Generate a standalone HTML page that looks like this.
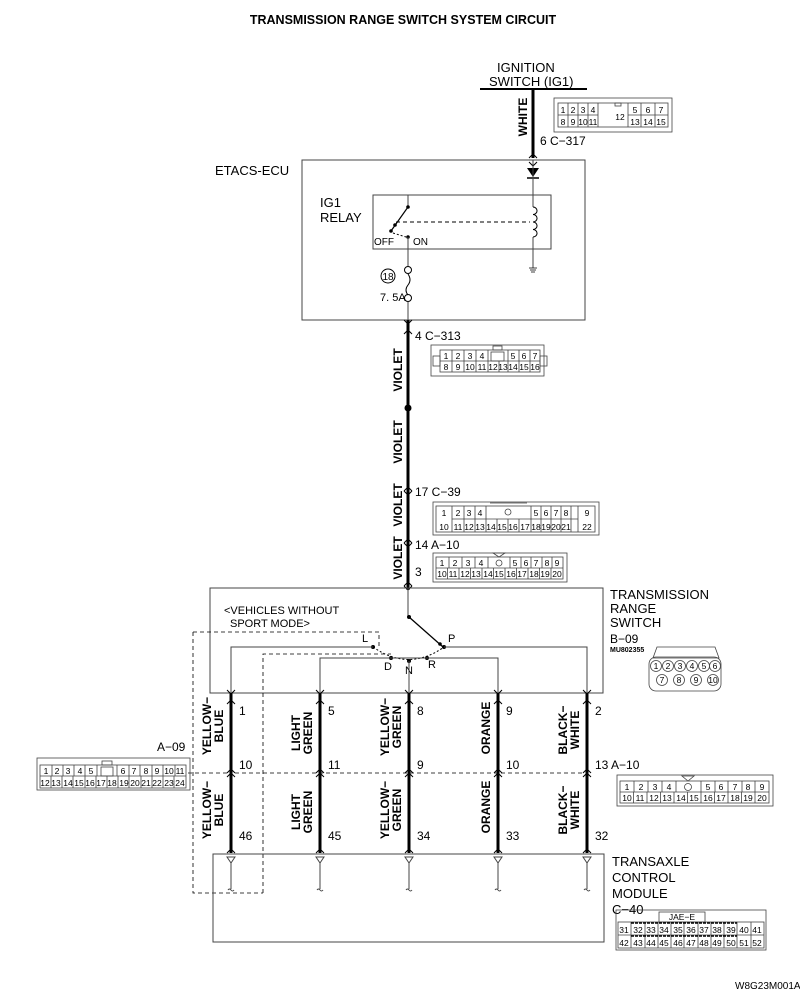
<!DOCTYPE html>
<html><head><meta charset="utf-8"><style>
html,body{margin:0;padding:0;background:#fff;}
svg{display:block;}
text{font-family:"Liberation Sans",sans-serif;fill:#000;}
.n{font-family:"Liberation Sans",sans-serif;font-size:12px;}
.c{font-size:8.5px;text-anchor:middle;}
.w{font-size:12px;font-weight:bold;text-anchor:middle;}
</style></head><body>
<svg width="800" height="996" viewBox="0 0 800 996" xmlns="http://www.w3.org/2000/svg">
<defs>
<g id="dn"><path d="M-4,-4 L0,0 L4,-4" fill="none" stroke="#000" stroke-width="1"/></g>
<g id="up"><path d="M-4,4 L0,0 L4,4" fill="none" stroke="#000" stroke-width="1"/></g>
</defs>
<text x="403" y="24" font-size="12.5" font-weight="bold" text-anchor="middle">TRANSMISSION RANGE SWITCH SYSTEM CIRCUIT</text>

<!-- ignition -->
<text x="497" y="72" font-size="13">IGNITION</text>
<text x="489" y="86" font-size="13">SWITCH (IG1)</text>
<line x1="480" y1="89" x2="587" y2="89" stroke="#000" stroke-width="2"/>
<line x1="533" y1="89" x2="533" y2="158" stroke="#000" stroke-width="3"/>
<text class="w" transform="translate(527,117) rotate(-90)">WHITE</text>
<text x="540" y="145" class="n">6  C−317</text>
<use href="#up" x="533" y="154"/><use href="#dn" x="533" y="166"/>

<!-- C-317 -->
<g fill="none" stroke="#444" stroke-width="0.8">
<rect x="554" y="98" width="118" height="34"/>
<rect x="558" y="103" width="110" height="24"/>
<line x1="558" y1="115" x2="598" y2="115"/><line x1="628" y1="115" x2="668" y2="115"/>
<line x1="568" y1="103" x2="568" y2="127"/><line x1="578" y1="103" x2="578" y2="127"/><line x1="588" y1="103" x2="588" y2="127"/><line x1="598" y1="103" x2="598" y2="127"/>
<line x1="628" y1="103" x2="628" y2="127"/><line x1="641" y1="103" x2="641" y2="127"/><line x1="655" y1="103" x2="655" y2="127"/>
<rect x="615" y="103" width="6" height="3"/>
</g>
<text class="c" y="113"><tspan x="563">1</tspan><tspan x="573">2</tspan><tspan x="583">3</tspan><tspan x="593">4</tspan><tspan x="635">5</tspan><tspan x="648">6</tspan><tspan x="661">7</tspan></text>
<text class="c" y="125"><tspan x="563">8</tspan><tspan x="573">9</tspan><tspan x="583">10</tspan><tspan x="593">11</tspan><tspan x="635">13</tspan><tspan x="648">14</tspan><tspan x="661">15</tspan></text>
<text class="c" x="620" y="120">12</text>

<!-- ETACS -->
<text x="215" y="175" font-size="13">ETACS-ECU</text>
<rect x="302" y="160" width="283" height="160" fill="none" stroke="#444" stroke-width="1"/>
<polygon points="527,168 539,168 533,177" fill="#000"/><line x1="527" y1="178" x2="539" y2="178" stroke="#000" stroke-width="1.5"/>
<line x1="533" y1="160" x2="533" y2="268" stroke="#444" stroke-width="1"/>
<rect x="373" y="195" width="178" height="54" fill="none" stroke="#444" stroke-width="1"/>
<rect x="529" y="207" width="8" height="30" fill="#fff"/>
<path d="M533,207 a4,3.7 0 1 1 0,7.5 a4,3.7 0 1 1 0,7.5 a4,3.7 0 1 1 0,7.5 a4,3.7 0 1 1 0,7.5" fill="none" stroke="#000" stroke-width="1"/>
<path d="M529,268 h8 M530,270 h6 M531,272 h4" stroke="#000" stroke-width="0.8"/>
<text x="320" y="207" font-size="13">IG1</text>
<text x="320" y="222" font-size="13">RELAY</text>
<line x1="408" y1="195" x2="408" y2="207" stroke="#444"/>
<line x1="408" y1="207" x2="391" y2="231" stroke="#000" stroke-width="1.2"/>
<circle cx="408" cy="207" r="1.8"/><circle cx="395" cy="225" r="1.8"/><circle cx="391" cy="231" r="1.8"/><circle cx="408" cy="237" r="1.8"/>
<line x1="396" y1="222" x2="530" y2="222" stroke="#000" stroke-dasharray="4,3"/>
<line x1="393" y1="233" x2="406" y2="237" stroke="#000" stroke-dasharray="2,2"/>
<text x="374" y="245" font-size="10" font-family="Liberation Mono">OFF</text>
<text x="413" y="245" font-size="10" font-family="Liberation Mono">ON</text>
<line x1="408" y1="237" x2="408" y2="266" stroke="#444"/>
<circle cx="408" cy="270" r="3.5" fill="none" stroke="#000"/>
<path d="M408,274 q4,6 0,11 q-4,5 0,10" fill="none" stroke="#000"/>
<circle cx="408" cy="298" r="3.5" fill="none" stroke="#000"/>
<line x1="408" y1="302" x2="408" y2="320" stroke="#444"/>
<circle cx="388" cy="276" r="7" fill="none" stroke="#000"/><text x="388" y="280" font-size="10" text-anchor="middle">18</text>
<text x="380" y="301" font-size="11">7. 5A</text>

<!-- main violet wire -->
<line x1="408" y1="320" x2="408" y2="590" stroke="#000" stroke-width="3"/>
<use href="#dn" x="408" y="324"/><use href="#up" x="408" y="330"/>
<circle cx="408" cy="408" r="3.5"/>
<text class="w" transform="translate(402,370) rotate(-90)">VIOLET</text>
<text class="w" transform="translate(402,442) rotate(-90)">VIOLET</text>
<text class="w" transform="translate(402,505) rotate(-90)">VIOLET</text>
<text class="w" transform="translate(402,558) rotate(-90)">VIOLET</text>
<text x="415" y="340" class="n">4  C−313</text>
<text x="415" y="496" class="n">17  C−39</text>
<text x="415" y="549" class="n">14  A−10</text>
<text x="415" y="576" class="n">3</text>
<use href="#up" x="408" y="487"/><use href="#dn" x="408" y="495"/>
<use href="#up" x="408" y="539"/><use href="#dn" x="408" y="547"/>
<use href="#up" x="408" y="582"/><use href="#dn" x="408" y="590"/>

<!-- C-313 -->
<g fill="none" stroke="#444" stroke-width="0.8">
<rect x="431" y="345" width="113" height="31"/>
<rect x="440" y="350" width="100" height="22"/>
<rect x="433" y="356" width="7" height="10"/><rect x="540" y="356" width="7" height="10"/>
<line x1="440" y1="361" x2="540" y2="361"/>
<line x1="452" y1="350" x2="452" y2="372"/><line x1="464" y1="350" x2="464" y2="372"/><line x1="476" y1="350" x2="476" y2="372"/><line x1="488" y1="350" x2="488" y2="372"/>
<line x1="499" y1="361" x2="499" y2="372"/><line x1="508" y1="350" x2="508" y2="372"/><line x1="519" y1="350" x2="519" y2="372"/><line x1="530" y1="350" x2="530" y2="372"/>
<rect x="491" y="352" width="13" height="9"/><rect x="493" y="346" width="9" height="4"/>
</g>
<text class="c" y="359"><tspan x="446">1</tspan><tspan x="458">2</tspan><tspan x="470">3</tspan><tspan x="482">4</tspan><tspan x="513">5</tspan><tspan x="524">6</tspan><tspan x="535">7</tspan></text>
<text class="c" y="370"><tspan x="446">8</tspan><tspan x="458">9</tspan><tspan x="470">10</tspan><tspan x="482">11</tspan><tspan x="493">12</tspan><tspan x="503">13</tspan><tspan x="513">14</tspan><tspan x="524">15</tspan><tspan x="535">16</tspan></text>

<!-- C-39 -->
<g fill="none" stroke="#444" stroke-width="0.8">
<rect x="433" y="502" width="166" height="33"/>
<rect x="436" y="506" width="159" height="26"/>
<line x1="452" y1="506" x2="452" y2="532"/><line x1="578" y1="506" x2="578" y2="532"/>
<line x1="452" y1="519" x2="578" y2="519"/>
<line x1="464" y1="506" x2="464" y2="532"/><line x1="475" y1="506" x2="475" y2="532"/><line x1="486" y1="506" x2="486" y2="532"/>
<line x1="531" y1="506" x2="531" y2="532"/><line x1="541" y1="506" x2="541" y2="532"/><line x1="551" y1="506" x2="551" y2="532"/><line x1="561" y1="506" x2="561" y2="532"/><line x1="571" y1="506" x2="571" y2="532"/>
<line x1="497" y1="519" x2="497" y2="532"/><line x1="508" y1="519" x2="508" y2="532"/><line x1="519" y1="519" x2="519" y2="532"/>
<circle cx="508" cy="512" r="3"/><line x1="490" y1="503" x2="527" y2="503"/>
</g>
<text class="c" y="516"><tspan x="444">1</tspan><tspan x="458">2</tspan><tspan x="469">3</tspan><tspan x="480">4</tspan><tspan x="536">5</tspan><tspan x="546">6</tspan><tspan x="556">7</tspan><tspan x="566">8</tspan><tspan x="587">9</tspan></text>
<text class="c" y="530"><tspan x="444">10</tspan><tspan x="458">11</tspan><tspan x="469">12</tspan><tspan x="480">13</tspan><tspan x="491">14</tspan><tspan x="502">15</tspan><tspan x="513">16</tspan><tspan x="525">17</tspan><tspan x="536">18</tspan><tspan x="546">19</tspan><tspan x="556">20</tspan><tspan x="566">21</tspan><tspan x="587">22</tspan></text>

<!-- A-10 top -->
<g fill="none" stroke="#444" stroke-width="0.8">
<rect x="433" y="553" width="134" height="29"/>
<rect x="436" y="557" width="127" height="22"/>
<line x1="436" y1="568" x2="563" y2="568"/>
<line x1="449" y1="557" x2="449" y2="568"/><line x1="462" y1="557" x2="462" y2="568"/><line x1="475" y1="557" x2="475" y2="568"/><line x1="488" y1="557" x2="488" y2="568"/><line x1="510" y1="557" x2="510" y2="568"/><line x1="521" y1="557" x2="521" y2="568"/><line x1="531" y1="557" x2="531" y2="568"/><line x1="542" y1="557" x2="542" y2="568"/><line x1="552" y1="557" x2="552" y2="568"/>
<circle cx="499" cy="563" r="3"/><path d="M493,553 h12 l-6,4 z"/>
<line x1="447.5" y1="568" x2="447.5" y2="579"/><line x1="459" y1="568" x2="459" y2="579"/><line x1="470.5" y1="568" x2="470.5" y2="579"/><line x1="482" y1="568" x2="482" y2="579"/><line x1="493.5" y1="568" x2="493.5" y2="579"/><line x1="505" y1="568" x2="505" y2="579"/><line x1="516.5" y1="568" x2="516.5" y2="579"/><line x1="528" y1="568" x2="528" y2="579"/><line x1="539.5" y1="568" x2="539.5" y2="579"/><line x1="551" y1="568" x2="551" y2="579"/>
</g>
<text class="c" y="566"><tspan x="442">1</tspan><tspan x="455">2</tspan><tspan x="468">3</tspan><tspan x="481">4</tspan><tspan x="515">5</tspan><tspan x="526">6</tspan><tspan x="536">7</tspan><tspan x="547">8</tspan><tspan x="557">9</tspan></text>
<text class="c" y="577"><tspan x="442">10</tspan><tspan x="453">11</tspan><tspan x="465">12</tspan><tspan x="476">13</tspan><tspan x="488">14</tspan><tspan x="499">15</tspan><tspan x="511">16</tspan><tspan x="522">17</tspan><tspan x="534">18</tspan><tspan x="545">19</tspan><tspan x="557">20</tspan></text>

<!-- TRS box -->
<rect x="210" y="588" width="393" height="105" fill="none" stroke="#444" stroke-width="1"/>
<text x="610" y="599" font-size="13">TRANSMISSION</text>
<text x="610" y="613" font-size="13">RANGE</text>
<text x="610" y="627" font-size="13">SWITCH</text>
<text x="610" y="643" font-size="12">B−09</text>
<text x="610" y="652" font-size="7" font-weight="bold">MU802355</text>
<g fill="none" stroke="#444" stroke-width="0.8">
<path d="M657,647 h58 l4,11 h-66 z"/>
<rect x="649" y="657" width="72" height="34" rx="7"/>
<circle cx="656" cy="666" r="5.5"/><circle cx="668" cy="666" r="5.5"/><circle cx="680" cy="666" r="5.5"/><circle cx="692" cy="666" r="5.5"/><circle cx="704" cy="666" r="5.5"/><circle cx="715" cy="666" r="5.5"/>
<circle cx="662" cy="680" r="5.5"/><circle cx="679" cy="680" r="5.5"/><circle cx="696" cy="680" r="5.5"/><circle cx="713" cy="680" r="5.5"/>
</g>
<text class="c" y="669"><tspan x="656">1</tspan><tspan x="668">2</tspan><tspan x="680">3</tspan><tspan x="692">4</tspan><tspan x="704">5</tspan><tspan x="715">6</tspan></text>
<text class="c" y="683"><tspan x="662">7</tspan><tspan x="679">8</tspan><tspan x="696">9</tspan><tspan x="713">10</tspan></text>

<text x="224" y="614" font-size="11">&lt;VEHICLES WITHOUT</text>
<text x="230" y="627" font-size="11">SPORT MODE&gt;</text>
<line x1="408" y1="588" x2="408" y2="617" stroke="#444"/>
<line x1="409" y1="617" x2="443" y2="647" stroke="#000" stroke-width="1.3"/>
<circle cx="409" cy="617" r="2"/><circle cx="440" cy="644" r="1.8"/><circle cx="444" cy="647" r="2"/>
<circle cx="373" cy="647" r="2"/><circle cx="391" cy="658" r="2"/><circle cx="409" cy="661" r="2"/><circle cx="427" cy="658" r="2"/>
<path d="M373,647 Q409,672 444,647" fill="none" stroke="#000" stroke-dasharray="2,2"/>
<text x="362" y="642" font-size="11">L</text><text x="448" y="642" font-size="11">P</text>
<text x="384" y="670" font-size="11">D</text><text x="405" y="674" font-size="11">N</text><text x="428" y="668" font-size="11">R</text>
<g fill="none" stroke="#444" stroke-width="1">
<polyline points="231,693 231,647 373,647"/>
<polyline points="444,647 587,647 587,693"/>
<polyline points="320,693 320,658 498,658 498,693"/>
<line x1="409" y1="661" x2="409" y2="693"/>
</g>
<g fill="none" stroke="#000" stroke-dasharray="4,3" stroke-width="0.8">
<polyline points="193,632 379,632 379,647"/>
<polyline points="263,893 263,654 391,654"/>
<polyline points="193,632 193,893 263,893"/>
</g>

<!-- lower wires -->
<g stroke="#000" stroke-width="3">
<line x1="231" y1="693" x2="231" y2="853"/><line x1="320" y1="693" x2="320" y2="853"/><line x1="409" y1="693" x2="409" y2="853"/><line x1="498" y1="693" x2="498" y2="853"/><line x1="587" y1="693" x2="587" y2="853"/>
</g>
<g>
<use href="#dn" x="231" y="694"/><use href="#up" x="231" y="700"/>
<use href="#dn" x="320" y="694"/><use href="#up" x="320" y="700"/>
<use href="#dn" x="409" y="694"/><use href="#up" x="409" y="700"/>
<use href="#dn" x="498" y="694"/><use href="#up" x="498" y="700"/>
<use href="#dn" x="587" y="694"/><use href="#up" x="587" y="700"/>
<use href="#up" x="231" y="769"/><use href="#up" x="231" y="773"/>
<use href="#up" x="320" y="769"/><use href="#up" x="320" y="773"/>
<use href="#up" x="409" y="769"/><use href="#up" x="409" y="773"/>
<use href="#up" x="498" y="769"/><use href="#up" x="498" y="773"/>
<use href="#up" x="587" y="769"/><use href="#up" x="587" y="773"/>
<use href="#up" x="231" y="849"/><use href="#up" x="320" y="849"/><use href="#up" x="409" y="849"/><use href="#up" x="498" y="849"/><use href="#up" x="587" y="849"/>
</g>
<line x1="235" y1="773" x2="583" y2="773" stroke="#000" stroke-dasharray="4,3" stroke-width="0.8"/>
<line x1="188" y1="773" x2="227" y2="773" stroke="#000" stroke-dasharray="4,3" stroke-width="0.8"/>
<g class="n" font-size="13">
<text x="239" y="715">1</text><text x="328" y="715">5</text><text x="417" y="715">8</text><text x="506" y="715">9</text><text x="595" y="715">2</text>
<text x="239" y="769">10</text><text x="328" y="769">11</text><text x="417" y="769">9</text><text x="506" y="769">10</text><text x="595" y="769">13  A−10</text>
<text x="239" y="840">46</text><text x="328" y="840">45</text><text x="417" y="840">34</text><text x="506" y="840">33</text><text x="595" y="840">32</text>
<text x="157" y="751">A−09</text>
</g>
<g font-size="12" font-weight="bold">
<text text-anchor="middle" transform="translate(211,726) rotate(-90)">YELLOW−</text><text text-anchor="middle" transform="translate(223,726) rotate(-90)">BLUE</text>
<text text-anchor="middle" transform="translate(300,733) rotate(-90)">LIGHT</text><text text-anchor="middle" transform="translate(312,733) rotate(-90)">GREEN</text>
<text text-anchor="middle" transform="translate(389,727) rotate(-90)">YELLOW−</text><text text-anchor="middle" transform="translate(401,727) rotate(-90)">GREEN</text>
<text text-anchor="middle" transform="translate(490,728) rotate(-90)">ORANGE</text>
<text text-anchor="middle" transform="translate(567,730) rotate(-90)">BLACK−</text><text text-anchor="middle" transform="translate(579,730) rotate(-90)">WHITE</text>
<text text-anchor="middle" transform="translate(211,810) rotate(-90)">YELLOW−</text><text text-anchor="middle" transform="translate(223,810) rotate(-90)">BLUE</text>
<text text-anchor="middle" transform="translate(300,812) rotate(-90)">LIGHT</text><text text-anchor="middle" transform="translate(312,812) rotate(-90)">GREEN</text>
<text text-anchor="middle" transform="translate(389,810) rotate(-90)">YELLOW−</text><text text-anchor="middle" transform="translate(401,810) rotate(-90)">GREEN</text>
<text text-anchor="middle" transform="translate(490,807) rotate(-90)">ORANGE</text>
<text text-anchor="middle" transform="translate(567,810) rotate(-90)">BLACK−</text><text text-anchor="middle" transform="translate(579,810) rotate(-90)">WHITE</text>
</g>

<!-- A-09 -->
<g fill="none" stroke="#444" stroke-width="0.8">
<rect x="37" y="758" width="153" height="32"/>
<rect x="40" y="765" width="146" height="23"/>
<line x1="40" y1="776" x2="186" y2="776"/>
<line x1="52" y1="765" x2="52" y2="776"/><line x1="63" y1="765" x2="63" y2="776"/><line x1="74" y1="765" x2="74" y2="776"/><line x1="85" y1="765" x2="85" y2="776"/><line x1="97" y1="765" x2="97" y2="776"/>
<line x1="117" y1="765" x2="117" y2="776"/><line x1="129" y1="765" x2="129" y2="776"/><line x1="140" y1="765" x2="140" y2="776"/><line x1="152" y1="765" x2="152" y2="776"/><line x1="163" y1="765" x2="163" y2="776"/><line x1="175" y1="765" x2="175" y2="776"/>
<rect x="101" y="767" width="12" height="9"/><rect x="102" y="761" width="10" height="4"/>
<line x1="51" y1="776" x2="51" y2="788"/><line x1="62" y1="776" x2="62" y2="788"/><line x1="73" y1="776" x2="73" y2="788"/><line x1="85" y1="776" x2="85" y2="788"/><line x1="96" y1="776" x2="96" y2="788"/><line x1="107" y1="776" x2="107" y2="788"/><line x1="118" y1="776" x2="118" y2="788"/><line x1="129" y1="776" x2="129" y2="788"/><line x1="141" y1="776" x2="141" y2="788"/><line x1="152" y1="776" x2="152" y2="788"/><line x1="163" y1="776" x2="163" y2="788"/><line x1="174" y1="776" x2="174" y2="788"/>
</g>
<text class="c" y="774"><tspan x="46">1</tspan><tspan x="57">2</tspan><tspan x="68">3</tspan><tspan x="80">4</tspan><tspan x="91">5</tspan><tspan x="123">6</tspan><tspan x="134">7</tspan><tspan x="146">8</tspan><tspan x="157">9</tspan><tspan x="169">10</tspan><tspan x="180">11</tspan></text>
<text class="c" y="786"><tspan x="45">12</tspan><tspan x="56">13</tspan><tspan x="68">14</tspan><tspan x="79">15</tspan><tspan x="90">16</tspan><tspan x="101">17</tspan><tspan x="112">18</tspan><tspan x="124">19</tspan><tspan x="135">20</tspan><tspan x="146">21</tspan><tspan x="157">22</tspan><tspan x="169">23</tspan><tspan x="180">24</tspan></text>

<!-- A-10 lower -->
<g fill="none" stroke="#444" stroke-width="0.8">
<rect x="617" y="775" width="156" height="31"/>
<rect x="620" y="781" width="149" height="22"/>
<line x1="620" y1="792" x2="769" y2="792"/>
<line x1="634" y1="781" x2="634" y2="792"/><line x1="648" y1="781" x2="648" y2="792"/><line x1="662" y1="781" x2="662" y2="792"/><line x1="676" y1="781" x2="676" y2="792"/><line x1="701" y1="781" x2="701" y2="792"/><line x1="715" y1="781" x2="715" y2="792"/><line x1="728" y1="781" x2="728" y2="792"/><line x1="742" y1="781" x2="742" y2="792"/><line x1="755" y1="781" x2="755" y2="792"/>
<circle cx="688" cy="787" r="3.5"/><path d="M682,776 h12 l-6,5 z"/>
<line x1="633.5" y1="792" x2="633.5" y2="803"/><line x1="647" y1="792" x2="647" y2="803"/><line x1="660.5" y1="792" x2="660.5" y2="803"/><line x1="674" y1="792" x2="674" y2="803"/><line x1="687.5" y1="792" x2="687.5" y2="803"/><line x1="701" y1="792" x2="701" y2="803"/><line x1="714.5" y1="792" x2="714.5" y2="803"/><line x1="728" y1="792" x2="728" y2="803"/><line x1="741.5" y1="792" x2="741.5" y2="803"/><line x1="755" y1="792" x2="755" y2="803"/>
</g>
<text class="c" y="790"><tspan x="627">1</tspan><tspan x="641">2</tspan><tspan x="655">3</tspan><tspan x="669">4</tspan><tspan x="708">5</tspan><tspan x="721">6</tspan><tspan x="735">7</tspan><tspan x="748">8</tspan><tspan x="762">9</tspan></text>
<text class="c" y="801"><tspan x="627">10</tspan><tspan x="640">11</tspan><tspan x="654">12</tspan><tspan x="667">13</tspan><tspan x="681">14</tspan><tspan x="694">15</tspan><tspan x="708">16</tspan><tspan x="721">17</tspan><tspan x="735">18</tspan><tspan x="748">19</tspan><tspan x="762">20</tspan></text>

<!-- TCM -->
<rect x="213" y="854" width="391" height="88" fill="none" stroke="#444" stroke-width="1"/>
<g fill="none" stroke="#444" stroke-width="1">
<path d="M227,857 h8 l-4,6 z M231,863 v26 M228,890 q1.5,-2 3,0 t3,0"/>
<path d="M316,857 h8 l-4,6 z M320,863 v26 M317,890 q1.5,-2 3,0 t3,0"/>
<path d="M405,857 h8 l-4,6 z M409,863 v26 M406,890 q1.5,-2 3,0 t3,0"/>
<path d="M494,857 h8 l-4,6 z M498,863 v26 M495,890 q1.5,-2 3,0 t3,0"/>
<path d="M583,857 h8 l-4,6 z M587,863 v26 M584,890 q1.5,-2 3,0 t3,0"/>
</g>
<text x="612" y="866" font-size="13">TRANSAXLE</text>
<text x="612" y="882" font-size="13">CONTROL</text>
<text x="612" y="898" font-size="13">MODULE</text>
<text x="612" y="914" font-size="13">C−40</text>
<g fill="none" stroke="#444" stroke-width="0.8">
<rect x="616" y="910" width="150" height="40"/>
<rect x="659" y="912" width="46" height="10"/>
<rect x="618" y="922" width="146" height="26"/>
<line x1="618" y1="935" x2="764" y2="935"/>
<line x1="631" y1="922" x2="631" y2="948"/><line x1="645" y1="922" x2="645" y2="948"/><line x1="658" y1="922" x2="658" y2="948"/><line x1="671" y1="922" x2="671" y2="948"/><line x1="684" y1="922" x2="684" y2="948"/><line x1="698" y1="922" x2="698" y2="948"/><line x1="711" y1="922" x2="711" y2="948"/><line x1="724" y1="922" x2="724" y2="948"/><line x1="737" y1="922" x2="737" y2="948"/><line x1="751" y1="922" x2="751" y2="948"/>
</g>
<line x1="631" y1="923" x2="737" y2="923" stroke="#000" stroke-width="1.5" stroke-dasharray="3,1"/>
<line x1="631" y1="936" x2="737" y2="936" stroke="#000" stroke-width="1.5" stroke-dasharray="3,1"/>
<text class="c" x="682" y="920">JAE−E</text>
<text class="c" y="933"><tspan x="624">31</tspan><tspan x="638">32</tspan><tspan x="651">33</tspan><tspan x="664">34</tspan><tspan x="678">35</tspan><tspan x="691">36</tspan><tspan x="704">37</tspan><tspan x="717">38</tspan><tspan x="731">39</tspan><tspan x="744">40</tspan><tspan x="757">41</tspan></text>
<text class="c" y="946"><tspan x="624">42</tspan><tspan x="638">43</tspan><tspan x="651">44</tspan><tspan x="664">45</tspan><tspan x="678">46</tspan><tspan x="691">47</tspan><tspan x="704">48</tspan><tspan x="717">49</tspan><tspan x="731">50</tspan><tspan x="744">51</tspan><tspan x="757">52</tspan></text>

<text x="735" y="989" font-size="10">W8G23M001A</text>
</svg>
</body></html>
